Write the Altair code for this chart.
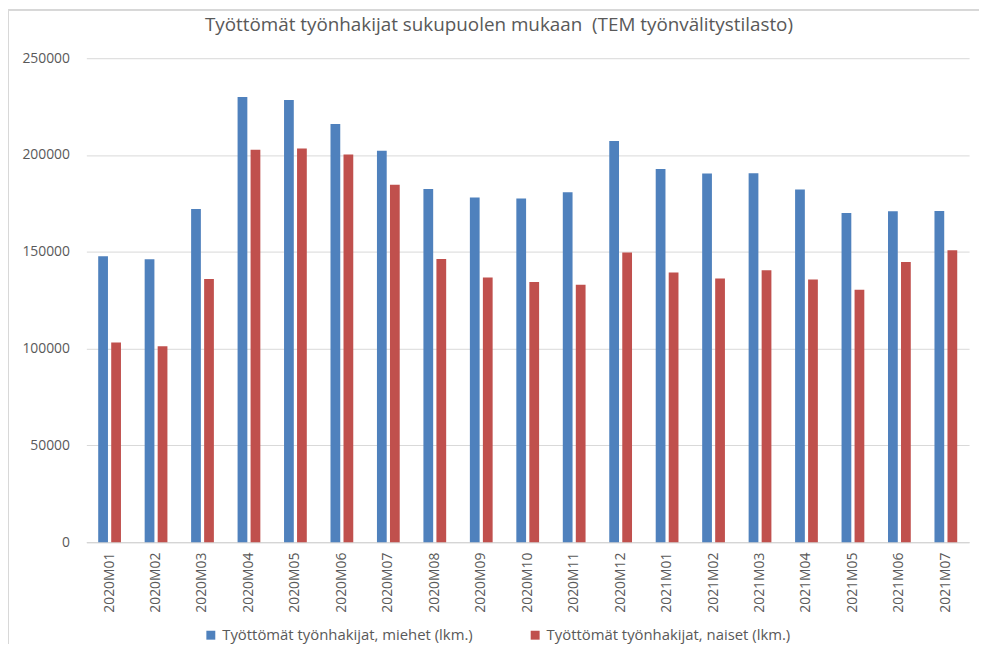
import altair as alt
import pandas as pd

months = ["2020M01", "2020M02", "2020M03", "2020M04", "2020M05", "2020M06",
          "2020M07", "2020M08", "2020M09", "2020M10", "2020M11", "2020M12",
          "2021M01", "2021M02", "2021M03", "2021M04", "2021M05", "2021M06", "2021M07"]
men = [147700, 146100, 172100, 229900, 228400, 216000, 202200, 182400, 178100,
       177600, 180800, 207200, 192800, 190400, 190600, 182200, 170100, 170900, 171100]
women = [103200, 101200, 135900, 202700, 203400, 200200, 184600, 146300, 136700,
         134400, 133000, 149600, 139300, 136200, 140500, 135700, 130400, 144800, 150800]
series = ["Työttömät työnhakijat, miehet (lkm.)", "Työttömät työnhakijat, naiset (lkm.)"]
colors = ["#4F81BD", "#C0504D"]
y_ticks = [0, 50000, 100000, 150000, 200000, 250000]
title = "Työttömät työnhakijat sukupuolen mukaan\u00a0 (TEM työnvälitystilasto)"

rows = []
for m, a, b in zip(months, men, women):
    rows.append({"month": m, "series": series[0], "value": a})
    rows.append({"month": m, "series": series[1], "value": b})
df = pd.DataFrame(rows)

FONT = "Open Sans"
GRAY = "#595959"

bars = alt.Chart(df).mark_bar().encode(
    x=alt.X("month:N", sort=months, title=None,
            scale=alt.Scale(paddingInner=0.51, paddingOuter=0.255),
            axis=alt.Axis(labelAngle=-90, ticks=False, labelPadding=10,
                          domainColor="#d0d0d0", labelFont=FONT, labelFontSize=14,
                          labelColor=GRAY)),
    xOffset=alt.XOffset("series:N", sort=series, scale=alt.Scale(paddingInner=0.25)),
    y=alt.Y("value:Q", title=None, scale=alt.Scale(domain=[0, 250000], nice=False),
            axis=alt.Axis(values=y_ticks, format="d", domain=False, ticks=False,
                          labelPadding=17, gridColor="#d9d9d9", labelFont=FONT,
                          labelFontSize=14, labelColor=GRAY)),
    color=alt.Color("series:N", sort=series,
                    scale=alt.Scale(domain=series, range=colors),
                    legend=alt.Legend(title=None, orient="none", direction="horizontal",
                                      legendX=118, legendY=574, symbolType="square",
                                      symbolSize=81, symbolStrokeWidth=0,
                                      labelFont=FONT, labelFontSize=15, labelColor=GRAY,
                                      labelLimit=500, columnPadding=55, labelOffset=4,
                                      padding=0)),
)

border_top = alt.Chart(df).mark_rule(color="#d9d9d9", strokeWidth=1).encode(
    x=alt.value(-78.5), x2=alt.value(900), y=alt.value(-48.5)
)
border_left = alt.Chart(df).mark_rule(color="#d9d9d9", strokeWidth=1).encode(
    x=alt.value(-78.5), y=alt.value(-48.5), y2=alt.value(620)
)

chart = alt.layer(border_top, border_left, bars).properties(
    width=890, height=488,
    title=alt.TitleParams(title, font=FONT, fontSize=19, fontWeight="normal",
                          color=GRAY, anchor="middle", dx=-29, offset=14,
                          baseline="alphabetic", dy=55),
    padding={"left": 79, "top": 48, "right": 10, "bottom": 100},
    autosize=alt.AutoSizeParams(type="none"),
).configure_view(stroke=None)

chart.save("out.html", embed_options={"renderer": "svg", "actions": False})
